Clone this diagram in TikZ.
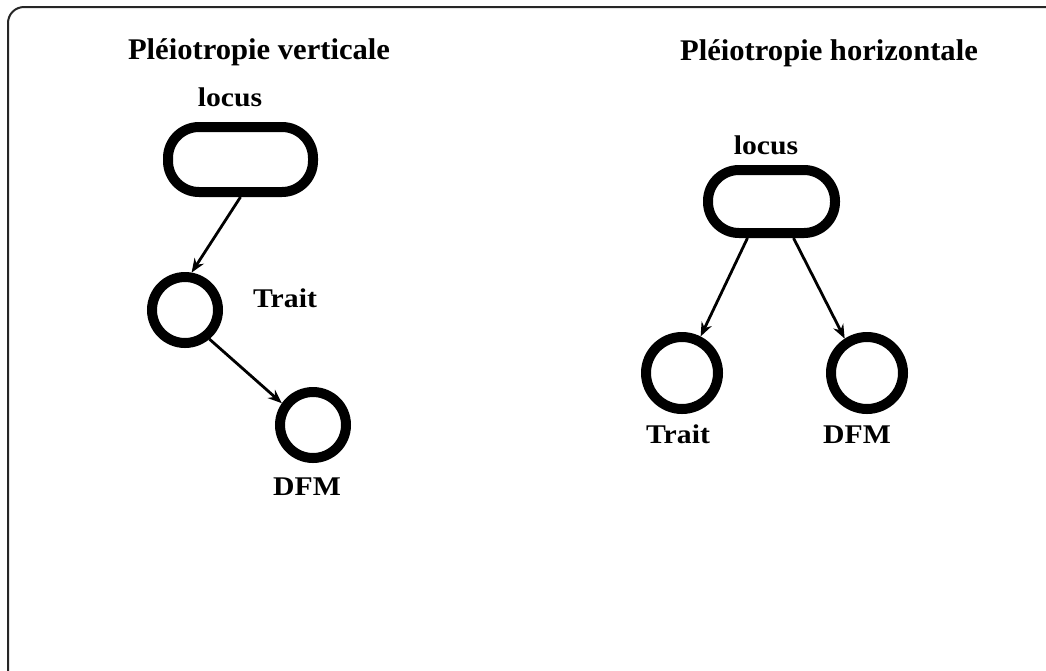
\documentclass[tikz,border=0pt]{standalone}
\usepackage{fontspec}
\setmainfont{Liberation Serif}
\newfontfamily\labfont{Liberation Serif}[FakeStretch=1.1]
\newfontfamily\titfont{Liberation Serif}[FakeStretch=1.02]
\usetikzlibrary{arrows.meta}
\begin{document}
\begin{tikzpicture}[x=1pt,y=-1pt,
  frame/.style={draw=black!85, line width=2pt, rounded corners=16pt},
  pill/.style={draw, line width=10pt, rounded corners=31pt, minimum width=145pt, minimum height=65pt, inner sep=0pt},
  ring/.style={draw, circle, line width=10pt, inner sep=0pt},
  arr/.style={line width=2.8pt, -{Stealth[length=14pt,width=11pt]}},
  title/.style={anchor=base, inner sep=0pt, font=\titfont\bfseries\fontsize{30}{34}\selectfont},
  lab/.style={anchor=base, inner sep=0pt, font=\labfont\bfseries\fontsize{27}{30}\selectfont}]
\useasboundingbox (0,0) rectangle (1046,670);
\clip (0,0) rectangle (1046,670);
\draw[frame] (8,7) rectangle (1080,700);

% left: vertical pleiotropy
\node[title] (tV) at (259,59) {Pléiotropie verticale};
\node[lab] (locL) at (230,106) {locus};
\node[pill] (pL) at (240.5,159.5) {};
\node[ring, minimum size=66pt] (trL) at (185,310) {};
\node[ring, minimum size=66pt] (dfL) at (313,425) {};
\node[lab] (trLlab) at (285,307) {Trait};
\node[lab] (dfLlab) at (307,495) {DFM};
\draw[arr] (pL.south) -- (trL.80);
\draw[arr] (trL.-50) -- (dfL.145);

% right: horizontal pleiotropy
\node[title] (tH) at (829,60) {Pléiotropie horizontale};
\node[lab] (locR) at (766,154) {locus};
\node[pill, minimum width=127pt, minimum height=63pt] (pR) at (771.5,201.5) {};
\node[ring, minimum size=72pt] (trR) at (682,373) {};
\node[ring, minimum size=72pt] (dfR) at (867,373) {};
\node[lab] (trRlab) at (678,443) {Trait};
\node[lab] (dfRlab) at (857,443) {DFM};
\draw[arr] ([xshift=-24pt]pR.south) -- (trR.63);
\draw[arr] ([xshift=22pt]pR.south) -- (dfR.123);
\end{tikzpicture}
\end{document}
